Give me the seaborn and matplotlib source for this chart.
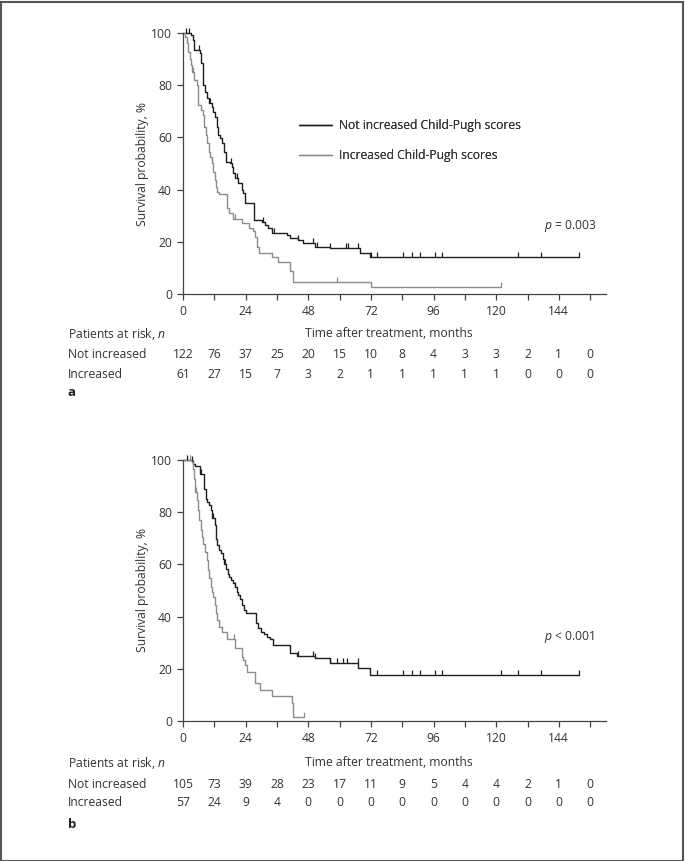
import numpy as np
import matplotlib
matplotlib.use("Agg")
import matplotlib.pyplot as plt
import matplotlib.transforms as mtransforms
from matplotlib.path import Path
from matplotlib.patches import Rectangle
import seaborn as sns
import pandas as pd

# ---------------- data ----------------
# Panel a : Kaplan-Meier step points (months, survival %)
a_not_t = [0, 3.0, 3.7, 4.3, 6.7, 7.0, 7.8, 8.4, 9.3, 10.1, 11.0, 11.6, 12.3, 12.9, 13.5, 14.2,
           14.8, 15.8, 16.5, 18.0, 18.6, 19.3, 19.9, 21.2, 22.5, 23.1, 23.8, 27.2, 30.1, 31.4,
           32.7, 34.0, 39.7, 41.0, 44.2, 46.1, 50.6, 56.3, 67.8, 71.6, 151.8]
a_not_s = [100, 99.2, 97.3, 93.5, 92.2, 88.4, 80.1, 77.5, 75.0, 73.0, 71.8, 69.9, 67.9, 64.1, 60.9, 59.6,
           57.7, 54.5, 50.7, 50.1, 48.8, 46.2, 44.3, 42.4, 39.8, 38.6, 34.7, 28.4, 27.7, 26.4,
           25.2, 23.5, 22.6, 21.3, 20.7, 19.7, 18.1, 17.5, 15.6, 14.1, 14.1]
a_inc_t = [0, 0.8, 1.4, 2.0, 2.7, 3.1, 3.6, 4.2, 5.2, 5.6, 5.9, 6.8, 7.5, 8.2, 8.8, 9.3, 10.0, 10.3,
           11.0, 11.6, 12.3, 12.6, 13.2, 13.8, 17.0, 17.8, 19.3, 22.5, 25.4, 26.9, 27.6, 28.2, 29.2,
           34.0, 36.5, 41.0, 42.3, 71.9, 121.8]
a_inc_s = [100, 98.6, 96.0, 92.8, 89.9, 87.7, 85.2, 82.0, 80.1, 77.5, 72.4, 70.5, 68.6, 64.1, 60.9, 57.7,
           54.5, 52.6, 50.1, 46.9, 43.7, 41.1, 39.2, 38.3, 32.8, 30.9, 28.6, 27.1, 25.2, 24.3, 22.0,
           18.1, 15.8, 14.0, 12.4, 8.9, 4.7, 2.6, 2.6]
a_not_cens = [1.0, 2.2, 6.0, 10.5, 18.3, 20.5, 30.5, 35.0, 44.2, 49.7, 51.2, 56.3, 62.5, 63.3, 67.2,
              71.9, 74.2, 84.2, 87.9, 90.8, 96.6, 99.4, 128.5, 137.0, 151.8]
a_inc_cens = [1.5, 4.0, 11.0, 19.8, 59.1, 121.8]

# Panel b
b_not_t = [0, 3.3, 4.0, 4.6, 6.5, 8.0, 8.8, 9.3, 10.1, 10.6, 11.2, 12.3, 12.6, 13.2, 13.8, 14.4,
           15.2, 15.8, 16.5, 17.1, 17.8, 18.4, 19.3, 19.9, 20.6, 21.2, 21.8, 22.7, 23.4, 24.1, 28.0,
           28.9, 29.9, 31.0, 32.3, 33.3, 34.6, 41.0, 43.5, 50.6, 56.3, 67.2, 71.6, 151.8]
b_not_s = [100, 99.5, 98.6, 97.7, 94.8, 89.0, 85.2, 83.9, 82.7, 80.7, 77.6, 75.0, 69.9, 67.3, 65.4, 64.2,
           62.2, 60.3, 58.4, 56.5, 55.2, 54.0, 52.7, 51.4, 49.5, 48.2, 46.9, 44.4, 42.5, 41.2, 37.4,
           35.5, 34.2, 33.2, 32.3, 31.6, 29.3, 25.9, 25.0, 24.0, 22.4, 20.4, 17.6, 17.6]
b_inc_t = [0, 3.6, 4.0, 4.3, 4.7, 5.2, 5.9, 6.3, 6.8, 7.4, 7.8, 8.4, 9.1, 9.7, 10.1, 10.6, 11.2, 11.6,
           12.3, 12.6, 13.2, 13.9, 14.8, 16.7, 19.9, 22.5, 23.1, 23.8, 24.4, 27.6, 29.5, 34.0, 41.6,
           42.3, 46.4]
b_inc_s = [100, 99.2, 96.7, 92.9, 87.8, 84.6, 80.7, 76.9, 73.1, 70.5, 68.0, 64.8, 61.6, 57.8, 54.6, 51.4,
           49.5, 47.6, 44.4, 41.2, 38.6, 36.1, 34.2, 31.6, 27.8, 24.6, 23.3, 21.4, 18.9, 14.4, 11.9,
           9.7, 6.8, 1.7, 1.7]
b_not_cens = [1.5, 3.3, 7.0, 11.5, 16.0, 20.0, 44.2, 49.9, 50.6, 56.3, 58.9, 61.4, 63.0, 66.9, 74.2,
              84.2, 87.9, 90.8, 96.6, 99.4, 121.7, 128.5, 137.0, 151.8]
b_inc_cens = [2.5, 5.0, 19.5, 46.4]

# Risk table
risk_times = [0, 12, 24, 36, 48, 60, 72, 84, 96, 108, 120, 132, 144, 156]
a_risk_not = [122, 76, 37, 25, 20, 15, 10, 8, 4, 3, 3, 2, 1, 0]
a_risk_inc = [61, 27, 15, 7, 3, 2, 1, 1, 1, 1, 1, 0, 0, 0]
b_risk_not = [105, 73, 39, 28, 23, 17, 11, 9, 5, 4, 4, 2, 1, 0]
b_risk_inc = [57, 24, 9, 4, 0, 0, 0, 0, 0, 0, 0, 0, 0, 0]

x_ticks = [0, 12, 24, 36, 48, 60, 72, 84, 96, 108, 120, 132, 144, 156]
x_ticklabels = ["0", "", "24", "", "48", "", "72", "", "96", "", "120", "", "144", ""]
y_ticks = [0, 20, 40, 60, 80, 100]

label_not = "Not increased Child-Pugh scores"
label_inc = "Increased Child-Pugh scores"
row_not = "Not increased"
row_inc = "Increased"

# ---------------- style ----------------
sns.set_theme(style="ticks")
plt.rcParams["font.family"] = ["Open Sans", "DejaVu Sans"]
plt.rcParams["mathtext.fontset"] = "custom"
plt.rcParams["mathtext.rm"] = "Open Sans"
plt.rcParams["mathtext.it"] = "Open Sans:italic"

TXT = "#333333"
C_NOT = "#1e1e1e"
C_INC = "#8c8c8c"
AX_C = "#444444"
FS = 8.7

W, H = 685, 861
fig = plt.figure(figsize=(W / 100, H / 100), dpi=100)
fig.patch.set_facecolor("white")
fig.patches.append(Rectangle((0.5 / W, 0.5 / H), 1 - 2.5 / W, 1 - 2.5 / H, transform=fig.transFigure,
                             fill=False, edgecolor="#555555", linewidth=1.5))

tick_up = Path([(0, 0), (0, 1)])


def px_x(x):
    return x / W


def px_y(y):
    return 1 - y / H


def step_value(t_list, s_list, t):
    idx = np.searchsorted(np.array(t_list), t, side="right") - 1
    return s_list[max(idx, 0)]


def panel(y0_px, nt, ns, it, iss, ncens, icens, ptxt, rnot, rinc, letter, rows_px):
    left, xpx, ypx = 183, 2.61, 2.61
    xmax = 162
    ax = fig.add_axes([px_x(left), (H - y0_px) / H, xmax * xpx / W, 100 * ypx / H])
    df_n = pd.DataFrame({"t": nt, "s": ns})
    df_i = pd.DataFrame({"t": it, "s": iss})
    sns.lineplot(data=df_n, x="t", y="s", ax=ax, color=C_NOT, lw=1.0, drawstyle="steps-post",
                 estimator=None, sort=False, label=label_not, clip_on=False)
    sns.lineplot(data=df_i, x="t", y="s", ax=ax, color=C_INC, lw=1.0, drawstyle="steps-post",
                 estimator=None, sort=False, label=label_inc, clip_on=False)
    for cens, tl, sl, col in [(ncens, nt, ns, C_NOT), (icens, it, iss, C_INC)]:
        cy = [step_value(tl, sl, c) for c in cens]
        ax.plot(cens, cy, linestyle="none", marker=tick_up, markersize=7, markeredgewidth=0.9,
                color=col, clip_on=False)
    ax.set_xlim(0, xmax)
    ax.set_ylim(0, 100)
    ax.set_xticks(x_ticks)
    ax.set_xticklabels(x_ticklabels)
    ax.set_yticks(y_ticks)
    ax.tick_params(axis="both", colors=AX_C, labelcolor=TXT, labelsize=8.7, length=4, width=0.9, pad=4)
    for s in ["left", "bottom"]:
        ax.spines[s].set_color(AX_C)
        ax.spines[s].set_linewidth(0.9)
    sns.despine(ax=ax)
    ax.set_xlabel("")
    ax.set_ylabel("Survival probability, %", fontsize=FS, color=TXT, labelpad=1)
    leg = ax.legend(loc="upper left",
                    bbox_to_anchor=((299 - left) / (xmax * xpx), (y0_px - 119) / (100 * ypx)),
                    frameon=False, borderpad=0, borderaxespad=0, handlelength=2.75,
                    handletextpad=0.6, labelspacing=1.4, fontsize=FS)
    for t in leg.get_texts():
        t.set_color(TXT)
    fig.text(px_x(544), px_y(rows_px[4]), ptxt, fontsize=FS, color=TXT, ha="left", va="center")

    # risk table
    tr = mtransforms.blended_transform_factory(ax.transData, fig.transFigure)
    fig.text(px_x(68), px_y(rows_px[0]), "Patients at risk, $\\it{n}$", fontsize=FS, color=TXT,
             ha="left", va="center")
    ax.text(79, px_y(rows_px[0]), "Time after treatment, months", transform=tr,
            fontsize=FS, color=TXT, ha="center", va="center")
    fig.text(px_x(68), px_y(rows_px[1]), row_not, fontsize=FS, color=TXT, ha="left", va="center")
    fig.text(px_x(68), px_y(rows_px[2]), row_inc, fontsize=FS, color=TXT, ha="left", va="center")
    for t, v1, v2 in zip(risk_times, rnot, rinc):
        ax.text(t, px_y(rows_px[1]), str(v1), transform=tr, fontsize=FS, color=TXT, ha="center", va="center")
        ax.text(t, px_y(rows_px[2]), str(v2), transform=tr, fontsize=FS, color=TXT, ha="center", va="center")
    fig.text(px_x(68), px_y(rows_px[3]), letter, fontsize=9.5, fontweight="bold", color="#222222",
             ha="left", va="center")
    return ax


panel(294, a_not_t, a_not_s, a_inc_t, a_inc_s, a_not_cens, a_inc_cens, "$\\it{p}$ = 0.003",
      a_risk_not, a_risk_inc, "a", [334, 355, 374, 392, 226])
panel(721, b_not_t, b_not_s, b_inc_t, b_inc_s, b_not_cens, b_inc_cens, "$\\it{p}$ < 0.001",
      b_risk_not, b_risk_inc, "b", [763, 785, 803, 824, 637])

fig.savefig("out.png", dpi=100, facecolor="white")
